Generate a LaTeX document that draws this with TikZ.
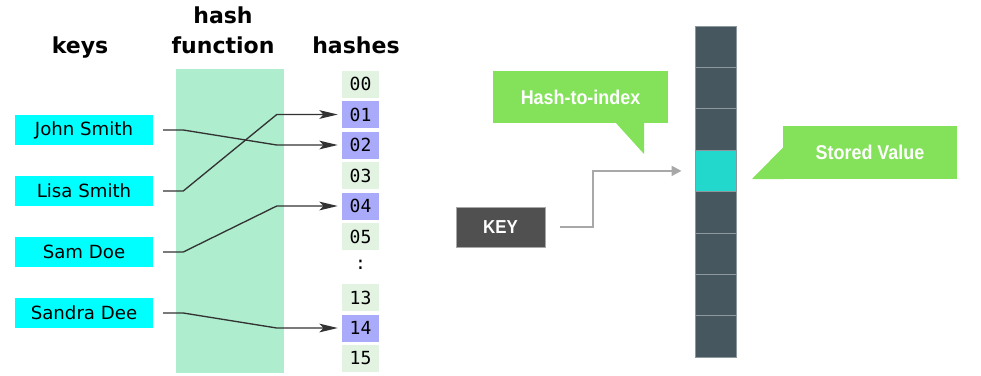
\documentclass[tikz,border=0pt]{standalone}
\usepackage{fontspec}
\setmainfont{DejaVu Sans}
\newfontfamily\hashfont{DejaVu Sans Mono}
\newfontfamily\tagfont[FakeStretch=0.9]{Liberation Sans}
\usetikzlibrary{arrows.meta,calc}

\definecolor{keycyan}{RGB}{0,255,255}
\definecolor{bandgreen}{RGB}{174,238,206}
\definecolor{hashfree}{RGB}{226,243,226}
\definecolor{hashused}{RGB}{170,170,250}
\definecolor{linegray}{RGB}{51,51,51}
\definecolor{slotdark}{RGB}{71,87,95}
\definecolor{slotedge}{RGB}{140,152,158}
\definecolor{slothit}{RGB}{34,216,204}
\definecolor{calloutgreen}{RGB}{132,226,90}
\definecolor{keydark}{RGB}{80,80,80}
\definecolor{pathgray}{RGB}{168,168,168}

\begin{document}
\begin{tikzpicture}[
  x=0.3mm, y=-0.3mm,
  header/.style={anchor=base,font=\fontsize{18.8}{22}\selectfont\bfseries},
  keybox/.style={rectangle,fill=keycyan,minimum width=41.4mm,minimum height=9mm,inner sep=0pt,font=\fontsize{15.5}{18}\selectfont},
  hashcell/.style={rectangle,fill=hashfree,minimum width=11.1mm,minimum height=8.1mm,inner sep=0pt,font=\hashfont\fontsize{15.4}{18}\selectfont},
  usedcell/.style={hashcell,fill=hashused},
  link/.style={draw=linegray,line width=0.4mm,shorten <=3mm,shorten >=1.2mm,-{Stealth[length=5.5mm,width=2.6mm,inset=1.2mm]}},
  slotbox/.style={rectangle,draw=slotedge,line width=0.3mm,fill=slotdark,minimum width=12.3mm,minimum height=12.42mm,inner sep=0pt},
  bubble/.style={rectangle,fill=calloutgreen,inner sep=0pt,text=white,font=\tagfont\bfseries\fontsize{17}{20}\selectfont},
  keyarrow/.style={draw=pathgray,line width=0.6mm,shorten <=4.2mm,shorten >=3.9mm,-{Triangle[length=3mm,width=3mm]}}
]
\useasboundingbox (0,0) rectangle (981,375);

% ===== HASH FUNCTION (Left) =====
\node[header] (hdr_keys) at (80,53) {keys};
\node[header] (hdr_hash) at (223,23) {hash};
\node[header] (hdr_fn) at (223,53) {function};
\node[header] (hdr_hashes) at (356,53) {hashes};

% band for the hash function
\node[rectangle,fill=bandgreen,minimum width=32.4mm,minimum height=91.2mm,inner sep=0pt] (band) at (230,221) {};

% Keys
\node[keybox] (john) at (84,130) {John Smith};
\node[keybox] (lisa) at (84,191) {Lisa Smith};
\node[keybox] (sam) at (84,252) {Sam Doe};
\node[keybox] (sandra) at (84,313) {Sandra Dee};

% Hash buckets
\node[hashcell] (h00) at (360.5,84) {00};
\node[usedcell] (h01) at (360.5,114.5) {01};
\node[usedcell] (h02) at (360.5,145) {02};
\node[hashcell] (h03) at (360.5,175.5) {03};
\node[usedcell] (h04) at (360.5,206) {04};
\node[hashcell] (h05) at (360.5,236.5) {05};
\node[font=\hashfont\fontsize{15.4}{18}\selectfont] (hdots) at (360.5,265) {:};
\node[hashcell] (h13) at (360.5,297.5) {13};
\node[usedcell] (h14) at (360.5,328) {14};
\node[hashcell] (h15) at (360.5,358.5) {15};

% Mapping
\draw[link] (john.east) -- ++(30,0) -- ($(h02.west)+(-65,0)$) -- (h02.west);
\draw[link] (lisa.east) -- ++(30,0) -- ($(h01.west)+(-65,0)$) -- (h01.west);
\draw[link] (sam.east) -- ++(30,0) -- ($(h04.west)+(-65,0)$) -- (h04.west);
\draw[link] (sandra.east) -- ++(30,0) -- ($(h14.west)+(-65,0)$) -- (h14.west);

% ===== HASH TABLE (Right) =====
\node[slotbox] (slot0) at (715.5,46.7) {};
\node[slotbox] (slot1) at (715.5,88.1) {};
\node[slotbox] (slot2) at (715.5,129.5) {};
\node[slotbox,fill=slothit] (slot3) at (715.5,170.9) {};
\node[slotbox] (slot4) at (715.5,212.3) {};
\node[slotbox] (slot5) at (715.5,253.7) {};
\node[slotbox] (slot6) at (715.5,295.1) {};
\node[slotbox] (slot7) at (715.5,336.5) {};

% Key
\node[rectangle,draw=pathgray,fill=keydark,line width=0.3mm,minimum width=26.7mm,minimum height=12mm,inner sep=0pt,text=white,font=\tagfont\bfseries\fontsize{16}{19}\selectfont] (keynode) at (500.5,227) {KEY};
\draw[keyarrow] (keynode.east) -- ++(47,0) |- (slot3.west);

% Callouts
\node[bubble,minimum width=52.5mm,minimum height=15.6mm] (hashidx) at (580.5,97) {Hash-to-index};
\fill[calloutgreen] ($(hashidx.south east)+(-53,-1)$) -- ($(hashidx.south east)+(-24,31)$) -- ($(hashidx.south east)+(-24,-1)$) -- cycle;

\node[bubble,minimum width=52.2mm,minimum height=15.9mm] (stored) at (870,152.5) {Stored Value};
\fill[calloutgreen] ($(stored.north west)+(1,21)$) -- ($(stored.south west)+(-31,0)$) -- ($(stored.south west)+(1,0)$) -- cycle;

\end{tikzpicture}
\end{document}
